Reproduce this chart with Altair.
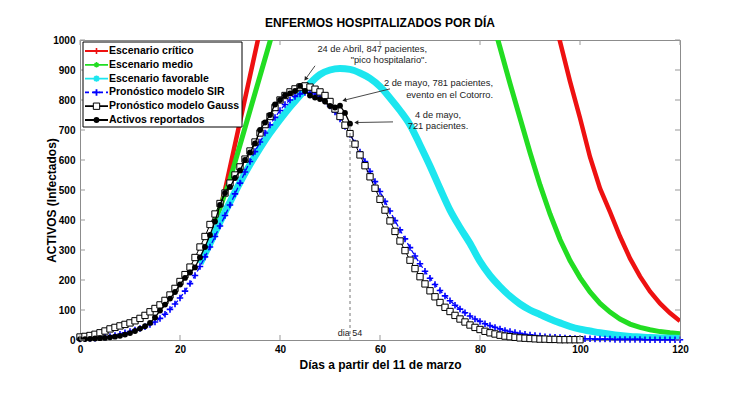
import math
import altair as alt
import pandas as pd

FONT = "Liberation Sans"

# ---------------- data ----------------
gauss_days = list(range(0, 101))
gauss_vals = [10, 12, 15, 19, 24, 30, 37, 42, 47, 52,
              57, 64, 72, 82, 94, 105, 117, 132, 150, 172,
              195, 218, 243, 275, 310, 345, 385, 420, 455, 490,
              523, 550, 577, 603, 630, 660, 690, 718, 745, 775,
              800, 815, 827, 837, 843, 847, 843, 836, 827, 815,
              795, 770, 745, 716, 688, 653, 617, 581, 544, 506,
              469, 433, 397, 362, 330, 298, 266, 238, 211, 187,
              164, 144, 125, 109, 95, 82, 70, 60, 50, 42,
              35, 29, 24, 20, 16, 13, 11, 9, 7, 6,
              5, 4, 3, 3, 2, 2, 1, 1, 1, 1,
              1]

sir_days = list(range(0, 121))
sir_vals = [3, 4, 5, 6, 8, 10, 12, 15, 19, 24,
            28, 33, 38, 44, 52, 60, 72, 86, 102, 120,
            140, 163, 188, 215, 245, 277, 310, 345, 380, 415,
            450, 487, 523, 560, 595, 628, 660, 690, 717, 742,
            765, 785, 800, 812, 820, 825, 825, 820, 810, 797,
            780, 760, 737, 712, 685, 657, 627, 595, 562, 528,
            495, 462, 430, 398, 367, 337, 308, 280, 254, 229,
            206, 185, 165, 147, 131, 116, 103, 91, 80, 70,
            62, 54, 48, 42, 37, 32, 28, 25, 22, 19,
            17, 15, 13, 11, 10, 9, 8, 7, 6, 5,
            5, 4, 4, 3, 3, 3, 3, 2, 2, 2,
            2, 2, 2, 1, 1, 1, 1, 1, 1, 1,
            1]

rep_days = list(range(0, 55))
rep_vals = [3, 3, 4, 5, 6, 7, 9, 11, 14, 18,
            23, 30, 38, 46, 57, 75, 98, 118, 138, 160,
            185, 207, 225, 242, 275, 310, 350, 395, 450, 490,
            510, 540, 565, 600, 625, 655, 700, 725, 750, 785,
            800, 815, 822, 830, 847, 830, 815, 808, 803, 795,
            780, 775, 781, 757, 721]

fav_days = list(range(24, 121, 2))
fav_vals = [255, 322, 393, 460, 525, 585, 640, 690, 735, 777,
            815, 855, 885, 900, 905, 902, 890, 872, 845, 807,
            765, 717, 650, 580, 505, 433, 375, 322, 262, 215,
            178, 146, 120, 100, 85, 70, 57, 45, 36, 30,
            24, 19, 15, 12, 10, 8, 7, 6, 5]

med_days = [27, 28, 30, 32, 34, 36, 38, 40,
            82, 84, 86, 88, 90, 92, 94, 96, 98, 100,
            102, 104, 106, 108, 110, 112, 114, 116, 118, 120]
med_vals = [395, 440, 535, 650, 765, 880, 995, 1110,
            1095, 975, 855, 740, 625, 517, 420, 335, 265, 208,
            160, 122, 93, 70, 53, 42, 34, 28, 24, 21]

crit_days = [27, 28, 29, 30, 32, 34, 36,
             94, 96, 98, 100, 102, 104, 106, 108, 110, 112, 114, 116, 118, 120]
crit_vals = [395, 440, 500, 576, 728, 880, 1032,
             1130, 995, 862, 740, 610, 505, 427, 345, 272, 212, 162, 122, 90, 63]

legend_labels = ["Escenario crítico", "Escenario medio", "Escenario favorable",
                 "Pronóstico modelo SIR", "Pronóstico modelo Gauss", "Activos reportados"]

x_ticks = [0, 20, 40, 60, 80, 100, 120]
y_ticks = [0, 100, 200, 300, 400, 500, 600, 700, 800, 900, 1000]

ann_text = ["24 de Abril, 847 pacientes,", "\"pico hospitalario\".",
            "2 de mayo, 781 pacientes,", "evento en el Cotorro.",
            "4 de mayo,", "721 pacientes."]
ann_x = [69.4, 69.4, 82.6, 82.6, 71.6, 71.6]
ann_y = [970, 933, 857, 817, 750, 713]
ann_align = ["right", "right", "right", "right", "center", "center"]

arrow_x1 = [47.0, 62.0, 62.6]
arrow_y1 = [914, 837, 727]
arrow_x2 = [45.2, 53.0, 55.4]
arrow_y2 = [872, 800, 725]

# ---------------- styling ----------------
W, H = 600, 300
RED, GREEN, CYAN, BLUE = "#EE1111", "#22DD22", "#1CE6EF", "#0000FF"
CROSS = "M-1,0L1,0M0,-1L0,1"
STAR = "M-1,0L1,0M0,-1L0,1M-0.7,-0.7L0.7,0.7M-0.7,0.7L0.7,-0.7"

xs = alt.Scale(domain=[0, 120], nice=False, zero=False)
ys = alt.Scale(domain=[0, 1000], nice=False, zero=False)

x_axis = alt.Axis(values=x_ticks, title="Días a partir del 11 de marzo", grid=False,
                  ticks=False, domain=False, labelPadding=4, titlePadding=5,
                  labelFlush=False, format="d",
                  labelFontSize=10, labelFontWeight="bold", titleFontSize=12,
                  titleFontWeight="bold", labelColor="black", titleColor="black",
                  labelFont=FONT, titleFont=FONT)
y_axis = alt.Axis(values=y_ticks, title="ACTIVOS (Infectados)", grid=False,
                  ticks=False, domain=False, labelPadding=5,
                  labelFlush=False, format="d",
                  labelFontSize=10, labelFontWeight="bold", titleFontSize=12,
                  titleFontWeight="bold", labelColor="black", titleColor="black",
                  labelFont=FONT, titleFont=FONT, titleX=-29, titleY=160,
                  titleAngle=270, titleBaseline="middle", titleAlign="center")


def X(f):
    return alt.X(f, type="quantitative", scale=xs, axis=x_axis)


def Y(f):
    return alt.Y(f, type="quantitative", scale=ys, axis=y_axis)


df_crit = pd.DataFrame({"d": crit_days, "v": crit_vals})
df_med = pd.DataFrame({"d": med_days, "v": med_vals})
df_fav = pd.DataFrame({"d": fav_days, "v": fav_vals})
df_sir = pd.DataFrame({"d": sir_days, "v": sir_vals})
df_gau = pd.DataFrame({"d": gauss_days, "v": gauss_vals})
df_rep = pd.DataFrame({"d": rep_days, "v": rep_vals})

layers = []
layers.append(alt.Chart(df_crit).mark_line(color=RED, strokeWidth=4.5, clip=True).encode(x=X("d"), y=Y("v")))
layers.append(alt.Chart(df_med).mark_line(color=GREEN, strokeWidth=5, clip=True).encode(x=X("d"), y=Y("v")))
layers.append(alt.Chart(df_fav).mark_line(color=CYAN, strokeWidth=7, clip=True,
                                          interpolate="monotone").encode(x=X("d"), y=Y("v")))
layers.append(alt.Chart(df_sir).mark_line(color=BLUE, strokeWidth=1.3, strokeDash=[5, 3]).encode(x=X("d"), y=Y("v")))
layers.append(alt.Chart(df_sir).mark_point(shape=CROSS, filled=False, color=BLUE, strokeWidth=1.6,
                                           size=42, opacity=1).encode(x=X("d"), y=Y("v")))
layers.append(alt.Chart(df_gau).mark_line(color="black", strokeWidth=1).encode(x=X("d"), y=Y("v")))
layers.append(alt.Chart(df_gau).mark_point(shape="square", filled=True, fill="white", stroke="black",
                                           strokeWidth=1, size=40, opacity=1).encode(x=X("d"), y=Y("v")))
layers.append(alt.Chart(df_rep).mark_line(color="black", strokeWidth=1.3).encode(x=X("d"), y=Y("v")))
layers.append(alt.Chart(df_rep).mark_point(shape="circle", filled=True, color="black",
                                           size=34, opacity=1).encode(x=X("d"), y=Y("v")))

# day 54 marker line and label
df_d54 = pd.DataFrame({"d": [rep_days[-1]], "v0": [0], "v": [rep_vals[-1]], "t": ["dia 54"], "ty": [25]})
layers.append(alt.Chart(df_d54).mark_rule(color="#777777", strokeDash=[3, 3], strokeWidth=1).encode(
    x=X("d"), y=Y("v0"), y2="v:Q"))
layers.append(alt.Chart(df_d54).mark_text(font=FONT, fontSize=9, color="#222222", align="center",
                                          baseline="middle").encode(
    x=X("d"), y=Y("ty"), text="t:N"))

# annotations
df_ann = pd.DataFrame({"x": ann_x, "y": ann_y, "t": ann_text, "a": ann_align})
for al in ["right", "center"]:
    layers.append(alt.Chart(df_ann[df_ann.a == al]).mark_text(
        font=FONT, fontSize=9.3, color="#222222", align=al, baseline="middle").encode(
        x=X("x"), y=Y("y"), text="t:N"))

angles = []
for x1, y1, x2, y2 in zip(arrow_x1, arrow_y1, arrow_x2, arrow_y2):
    dx = (x2 - x1) * W / 120.0
    dy = -(y2 - y1) * H / 1000.0
    angles.append(math.degrees(math.atan2(dx, -dy)) % 360)
df_arr = pd.DataFrame({"x1": arrow_x1, "y1": arrow_y1, "x2": arrow_x2, "y2": arrow_y2, "ang": angles})
layers.append(alt.Chart(df_arr).mark_rule(color="#333333", strokeWidth=0.9).encode(
    x=X("x1"), y=Y("y1"), x2="x2:Q", y2="y2:Q"))
layers.append(alt.Chart(df_arr).mark_point(shape="triangle", filled=True, color="#222222", size=22,
                                           opacity=1).encode(
    x=X("x2"), y=Y("y2"), angle=alt.Angle("ang:Q", scale=None)))

# inward ticks (MATLAB style box)
df_xt = pd.DataFrame({"d": x_ticks})
df_yt = pd.DataFrame({"v": y_ticks})
TICK = "#999999"
layers.append(alt.Chart(df_xt).mark_rule(color=TICK).encode(
    x=X("d"), y=alt.value(H), y2=alt.value(H - 5)))
layers.append(alt.Chart(df_xt).mark_rule(color=TICK).encode(
    x=X("d"), y=alt.value(0), y2=alt.value(5)))
layers.append(alt.Chart(df_yt).mark_rule(color=TICK).encode(
    y=Y("v"), x=alt.value(0), x2=alt.value(5)))
layers.append(alt.Chart(df_yt).mark_rule(color=TICK).encode(
    y=Y("v"), x=alt.value(W - 5), x2=alt.value(W)))

# legend box (custom)
LX0, LX1, LY0, LY1 = 3, 162, 2, 87
ROW0, ROWH = 11, 13.8
SEG0, SEG1, MK, TX = 5, 28, 16.5, 29
one = pd.DataFrame({"k": [0]})
layers.append(alt.Chart(one).mark_rect(fill="white", stroke="black", strokeWidth=1).encode(
    x=alt.value(LX0), x2=alt.value(LX1), y=alt.value(LY0), y2=alt.value(LY1)))
leg = pd.DataFrame({"label": legend_labels,
                    "ly": [ROW0 + ROWH * i for i in range(len(legend_labels))]})
leg_colors = [RED, GREEN, CYAN, BLUE, "black", "black"]
leg_dash = [[1, 0], [1, 0], [1, 0], [4, 3], [1, 0], [1, 0]]
layers.append(alt.Chart(leg).mark_rule(strokeWidth=1.8).encode(
    x=alt.value(SEG0), x2=alt.value(SEG1), y=alt.Y("ly:Q", scale=None, axis=None),
    color=alt.Color("label:N", scale=alt.Scale(domain=legend_labels, range=leg_colors), legend=None),
    strokeDash=alt.StrokeDash("label:N", scale=alt.Scale(domain=legend_labels, range=leg_dash), legend=None)))
marker_specs = [
    (0, dict(shape=CROSS, filled=False, color=RED, strokeWidth=1.6, size=36)),
    (1, dict(shape=STAR, filled=False, color=GREEN, strokeWidth=1.4, size=30)),
    (2, dict(shape=STAR, filled=False, color=CYAN, strokeWidth=1.8, size=40)),
    (3, dict(shape=CROSS, filled=False, color=BLUE, strokeWidth=1.8, size=42)),
    (4, dict(shape="square", filled=True, fill="white", stroke="black", strokeWidth=1, size=40)),
    (5, dict(shape="circle", filled=True, color="black", size=34)),
]
for i, spec in marker_specs:
    layers.append(alt.Chart(leg.iloc[[i]]).mark_point(opacity=1, **spec).encode(
        x=alt.value(MK), y=alt.Y("ly:Q", scale=None, axis=None)))
layers.append(alt.Chart(leg).mark_text(font=FONT, fontSize=10.5, fontWeight="bold", color="black",
                                       align="left", baseline="middle").encode(
    x=alt.value(TX), y=alt.Y("ly:Q", scale=None, axis=None), text="label:N"))

chart = alt.layer(*layers).properties(
    width=W, height=H,
    title=alt.TitleParams("ENFERMOS HOSPITALIZADOS POR DÍA", font=FONT, fontSize=12,
                          fontWeight="bold", color="black", anchor="middle", offset=5),
    autosize=alt.AutoSizeParams(type="none"),
    padding={"left": 72, "top": 32, "right": 60, "bottom": 40},
).configure_view(stroke="#8c8c8c", strokeWidth=1)

chart.save("out.html", embed_options={"renderer": "svg", "actions": False})
